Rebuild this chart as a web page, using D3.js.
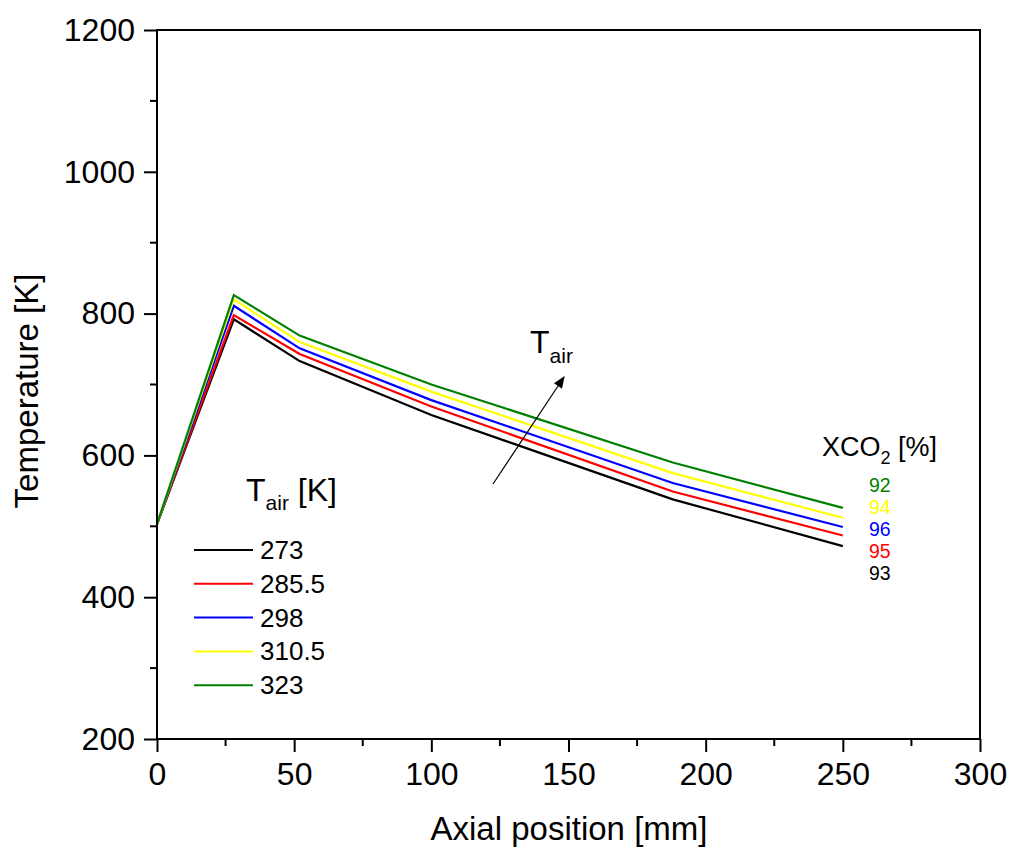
<!DOCTYPE html>
<html><head><meta charset="utf-8">
<script src="https://cdn.jsdelivr.net/npm/d3@7"></script>
<style>body{margin:0;background:#fff}svg{display:block}text{font-family:"Liberation Sans",Arial,sans-serif}</style>
</head><body><svg id="c" width="1010" height="849"></svg>
<script>
const xPos = [0, 28, 52, 100, 188, 250];
const series = [
  {tair: "273",   xco2: "93", color: "#000000", values: [503, 792, 733, 657, 538, 472]},
  {tair: "285.5", xco2: "95", color: "#ff0000", values: [503, 798, 743, 669, 549, 487]},
  {tair: "298",   xco2: "96", color: "#0000ff", values: [503, 811, 751, 678, 561, 499]},
  {tair: "310.5", xco2: "94", color: "#ffff00", values: [503, 820, 760, 690, 575, 512]},
  {tair: "323",   xco2: "92", color: "#008000", values: [503, 826, 769, 700, 590, 526]}
];
const xTicks = [0, 50, 100, 150, 200, 250, 300];
const yTicks = [200, 400, 600, 800, 1000, 1200];
const xco2Order = ["92", "94", "96", "95", "93"];
const xco2Colors = ["#008000", "#ffff00", "#0000ff", "#ff0000", "#000000"];

const svg = d3.select("#c");
const L = 157, R = 980, T = 30, B = 739;
const x = d3.scaleLinear().domain([0, 300]).range([L, R]);
const y = d3.scaleLinear().domain([200, 1200]).range([B, T]);

// lines
const line = d3.line().x((d, i) => x(xPos[i])).y(d => y(d));
series.forEach(s => {
  svg.append("path").attr("d", line(s.values)).attr("fill", "none")
    .attr("stroke", s.color).attr("stroke-width", 2.2).attr("stroke-linejoin", "miter");
});

// frame
svg.append("rect").attr("x", L).attr("y", T).attr("width", R - L).attr("height", B - T)
  .attr("fill", "none").attr("stroke", "#000").attr("stroke-width", 2);

// axes
const fs = 32;
const xAxis = d3.axisBottom(x).tickValues(xTicks).tickFormat(d3.format("d")).tickSize(13).tickPadding(10);
const gx = svg.append("g").attr("transform", `translate(0,${B})`).call(xAxis);
const yAxis = d3.axisLeft(y).tickValues(yTicks).tickFormat(d3.format("d")).tickSize(13).tickPadding(9);
const gy = svg.append("g").attr("transform", `translate(${L},0)`).call(yAxis);
[gx, gy].forEach(g => {
  g.attr("font-size", fs).attr("font-family", '"Liberation Sans",Arial,sans-serif');
  g.select(".domain").remove();
  g.selectAll(".tick line").attr("stroke", "#000").attr("stroke-width", 2);
  g.selectAll(".tick text").attr("font-size", fs).attr("fill", "#000");
});
// minor ticks
const xMinor = d3.range(25, 300, 50);
svg.append("g").selectAll("line").data(xMinor).join("line")
  .attr("x1", d => x(d)).attr("x2", d => x(d)).attr("y1", B).attr("y2", B + 7)
  .attr("stroke", "#000").attr("stroke-width", 2);
const yMinor = d3.range(300, 1200, 200);
svg.append("g").selectAll("line").data(yMinor).join("line")
  .attr("y1", d => y(d)).attr("y2", d => y(d)).attr("x1", L).attr("x2", L - 7)
  .attr("stroke", "#000").attr("stroke-width", 2);

// axis titles
svg.append("text").attr("x", 569).attr("y", 840).attr("text-anchor", "middle")
  .attr("font-size", 33).text("Axial position [mm]");
svg.append("text").attr("transform", `translate(38,391) rotate(-90)`)
  .attr("text-anchor", "middle").attr("font-size", 33).text("Temperature [K]");

// legend
const lg = svg.append("g");
const t1 = lg.append("text").attr("x", 246).attr("y", 501).attr("font-size", 32);
t1.append("tspan").text("T");
t1.append("tspan").attr("font-size", 21).attr("dy", 9).text("air");
t1.append("tspan").attr("dy", -9).text(" [K]");
series.forEach((s, i) => {
  const yy = 550 + i * 33.8;
  lg.append("line").attr("x1", 194).attr("x2", 253).attr("y1", yy).attr("y2", yy)
    .attr("stroke", s.color).attr("stroke-width", 2);
  lg.append("text").attr("x", 260).attr("y", yy + 9).attr("font-size", 26).text(s.tair);
});

// XCO2 labels
const t2 = svg.append("text").attr("x", 822).attr("y", 456).attr("font-size", 27);
t2.append("tspan").text("XCO");
t2.append("tspan").attr("font-size", 18).attr("dy", 8).text("2");
t2.append("tspan").attr("dy", -8).text(" [%]");
xco2Order.forEach((v, i) => {
  svg.append("text").attr("x", 869).attr("y", 492 + i * 22).attr("font-size", 19.5)
    .attr("fill", xco2Colors[i]).text(v);
});

// arrow
svg.append("defs").append("marker").attr("id", "ah").attr("viewBox", "0 0 10 10")
  .attr("refX", 9).attr("refY", 5).attr("markerWidth", 14).attr("markerHeight", 12)
  .attr("markerUnits", "userSpaceOnUse").attr("orient", "auto")
  .append("path").attr("d", "M0,1 L10,5 L0,9 Z").attr("fill", "#000");
svg.append("line").attr("x1", 493).attr("y1", 484).attr("x2", 564).attr("y2", 377)
  .attr("stroke", "#000").attr("stroke-width", 1.2).attr("marker-end", "url(#ah)");
const t3 = svg.append("text").attr("x", 530).attr("y", 353).attr("font-size", 32);
t3.append("tspan").text("T");
t3.append("tspan").attr("font-size", 21).attr("dy", 10).text("air");
</script></body></html>
